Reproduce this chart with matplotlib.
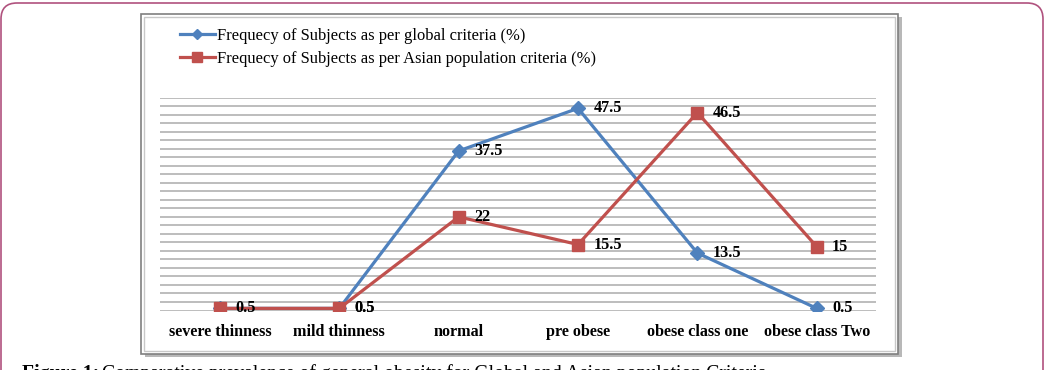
import matplotlib.pyplot as plt
from matplotlib.patches import Rectangle, FancyBboxPatch
from matplotlib.lines import Line2D
from matplotlib.transforms import IdentityTransform

# data
categorias = ['severe thinness', 'mild thinness', 'normal', 'pre obese',
              'obese class one', 'obese class Two']
global_pct = [0.5, 0.5, 37.5, 47.5, 13.5, 0.5]
asian_pct = [0.5, 0.5, 22, 15.5, 46.5, 15]
etq_global = ['', '0.5', '37.5', '47.5', '13.5', '0.5']
etq_asian = ['0.5', '0.5', '22', '15.5', '46.5', '15']
nombre_global = 'Frequecy of Subjects as per global criteria (%)'
nombre_asian = 'Frequecy of Subjects as per Asian population criteria (%)'
pie = 'Comparative prevalence of general obesity for Global and Asian population Criteria'

azul = '#4f81bd'
rojo = '#c0504d'
serif = ['Liberation Serif', 'DejaVu Serif']

W, H = 1053, 370
fig = plt.figure(figsize=(W / 100, H / 100), dpi=100)


def px(x0, y0, x1, y1):
    # caja en pixeles (origen arriba-izquierda) -> fraccion de figura
    return [x0 / W, 1 - y1 / H, (x1 - x0) / W, (y1 - y0) / H]


# marco rosa de la pagina
fig.patches.append(FancyBboxPatch((1, -30), 1042, 397,
                                  boxstyle='round,pad=0,rounding_size=16',
                                  transform=IdentityTransform(), fill=False,
                                  edgecolor='#b0527e', lw=1.2, zorder=-3))

# caja del grafico con sombra y doble borde
fig.patches.append(Rectangle((145, H - 357), 757, 340, transform=IdentityTransform(),
                             facecolor='#b8b8b8', edgecolor='none', zorder=-3))
fig.patches.append(Rectangle((141, H - 354), 757, 340, transform=IdentityTransform(),
                             facecolor='white', edgecolor='#7f7f7f', lw=1.2, zorder=-2))
fig.patches.append(Rectangle((144, H - 351), 751, 334, transform=IdentityTransform(),
                             facecolor='none', edgecolor='#c8c8c8', lw=1.0, zorder=-1))

ax = fig.add_axes(px(160.3, 97.7, 876.4, 310.5))
ax.set_facecolor('none')
x = range(len(categorias))

ax.plot(x, global_pct, color=azul, lw=2.3, marker='D', ms=7, zorder=3,
        label=nombre_global)
ax.plot(x, asian_pct, color=rojo, lw=2.3, marker='s', ms=8, zorder=4,
        label=nombre_asian)

for xi, v, t in zip(x, global_pct, etq_global):
    if t:
        ax.annotate(t, (xi, v), xytext=(11, 0), textcoords='offset points',
                    va='center', ha='left', fontsize=11.7, fontweight='bold',
                    family=serif, zorder=5)
for xi, v, t in zip(x, asian_pct, etq_asian):
    ax.annotate(t, (xi, v), xytext=(11, 0), textcoords='offset points',
                va='center', ha='left', fontsize=11.7, fontweight='bold',
                family=serif, zorder=5)

ax.set_xlim(-0.5, len(categorias) - 0.5)
ax.set_ylim(0, 50)
ax.set_yticks(range(0, 51, 2))
ax.yaxis.grid(True, color='#bdbdbd', lw=1.4)
ax.set_axisbelow(True)
ax.tick_params(axis='y', length=0, labelleft=False)
ax.set_xticks(list(x))
ax.set_xticklabels(categorias, fontsize=11.6, fontweight='bold', family=serif)
ax.tick_params(axis='x', length=0, pad=10)
for s in ax.spines.values():
    s.set_visible(False)

# leyenda arriba a la izquierda
h1 = Line2D([], [], color=azul, lw=2.3, marker='D', ms=5)
h2 = Line2D([], [], color=rojo, lw=2.3, marker='s', ms=6.5)
fig.legend([h1, h2], [nombre_global, nombre_asian], loc='upper left',
           bbox_to_anchor=(180 / W, 1 - 28 / H), frameon=False,
           prop={'family': serif, 'size': 11.9}, handlelength=2.1,
           handletextpad=0.12, labelspacing=0.4, borderpad=0, borderaxespad=0)

# pie de figura (cortado abajo como en la imagen)
t1 = fig.text(22 / W, 1 - 364 / H, 'Figure 1:', fontsize=14.2, fontweight='bold',
              family=serif, va='top', ha='left')
fig.canvas.draw()
bb = t1.get_window_extent()
fig.text((bb.x1 + 3) / W, 1 - 364 / H, pie, fontsize=14.2, family=serif,
         va='top', ha='left')

fig.savefig('out.png', dpi=100)
